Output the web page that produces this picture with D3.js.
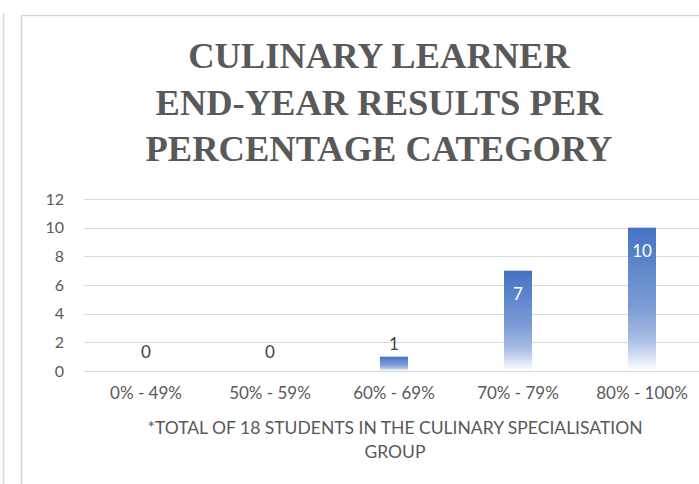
<!DOCTYPE html>
<html>
<head>
<meta charset="utf-8">
<script src="https://cdn.jsdelivr.net/npm/d3@7"></script>
<style>
  body { margin: 0; background: #fff; }
  svg { display: block; }
</style>
</head>
<body>
<svg id="chart"></svg>
<script>
    /* chart data */
    let categories = ["0% - 49%", "50% - 59%", "60% - 69%", "70% - 79%", "80% - 100%"];
    let values = [0, 0, 1, 7, 10];
    let yTicks = [0, 2, 4, 6, 8, 10, 12];
    let titleLines = ["CULINARY LEARNER", "END-YEAR RESULTS PER", "PERCENTAGE CATEGORY"];
    let axisTitleLines = ["*TOTAL OF 18 STUDENTS IN THE CULINARY SPECIALISATION", "GROUP"];

    let width = 699;
    let height = 484;
    let plotLeft = 84, plotRight = 704, plotTop = 199, plotBottom = 371;
    let font = "Lato, 'Open Sans', sans-serif";

    const svg = d3.select("#chart").attr("width", width).attr("height", height);

    // frame of neighbouring chart and of this chart
    svg.append("line").attr("x1", 3.5).attr("x2", 3.5).attr("y1", 13).attr("y2", height)
        .attr("stroke", "#d9d9d9").attr("stroke-width", 1.5);
    svg.append("rect").attr("x", 21.5).attr("y", 15.5).attr("width", 720).attr("height", 520)
        .attr("fill", "none").attr("stroke", "#d9d9d9").attr("stroke-width", 1.5);

    let grad = svg.append("defs").append("linearGradient").attr("id", "barFill")
        .attr("x1", 0).attr("y1", 0).attr("x2", 0).attr("y2", 1);
    grad.append("stop").attr("offset", "0%").attr("stop-color", "#4472c4");
    grad.append("stop").attr("offset", "55%").attr("stop-color", "#7b9bd5");
    grad.append("stop").attr("offset", "78%").attr("stop-color", "#a9bde5");
    grad.append("stop").attr("offset", "100%").attr("stop-color", "#ffffff");

    let xScale = d3.scaleBand().domain(categories).range([plotLeft, plotRight]).paddingInner(0).paddingOuter(0);
    let yScale = d3.scaleLinear().domain([0, 12]).range([plotBottom, plotTop]);
    let barWidth = 28;

    // gridlines
    svg.append("g").selectAll("line").data(yTicks).enter().append("line")
        .attr("x1", plotLeft).attr("x2", plotRight)
        .attr("y1", d => Math.round(yScale(d)) + 0.5).attr("y2", d => Math.round(yScale(d)) + 0.5)
        .attr("stroke", "#d9d9d9").attr("stroke-width", 1);

    // y axis labels
    let yAxis = d3.axisLeft(yScale).tickValues(yTicks).tickSize(0).tickPadding(0);
    let gy = svg.append("g").attr("transform", "translate(64,0)").call(yAxis);
    gy.select(".domain").remove();
    gy.selectAll("text").attr("font-family", font).attr("font-size", 16).attr("fill", "#595959");

    // x axis labels
    let xAxis = d3.axisBottom(xScale).tickSize(0).tickPadding(0);
    let gx = svg.append("g").attr("transform", "translate(0,387)").call(xAxis);
    gx.select(".domain").remove();
    gx.selectAll("text").attr("font-family", font).attr("font-size", 17).attr("fill", "#595959");

    // bars
    svg.append("g").selectAll("rect").data(values).enter().append("rect")
        .attr("x", (d, i) => xScale(categories[i]) + xScale.bandwidth() / 2 - barWidth / 2)
        .attr("width", barWidth)
        .attr("y", d => yScale(d))
        .attr("height", d => yScale(0) - yScale(d))
        .attr("fill", "url(#barFill)");

    // data labels
    svg.append("g").selectAll("text").data(values).enter().append("text")
        .attr("x", (d, i) => xScale(categories[i]) + xScale.bandwidth() / 2)
        .attr("y", d => d >= 5 ? yScale(d) + 29 : yScale(d) - (d == 0 ? 13 : 7))
        .attr("text-anchor", "middle")
        .attr("font-family", font).attr("font-size", 17)
        .attr("fill", d => d >= 5 ? "#ffffff" : "#404040")
        .text(d => d);

    // title
    svg.append("g").selectAll("text").data(titleLines).enter().append("text")
        .attr("x", 379).attr("y", (d, i) => 68 + i * 46.5)
        .attr("text-anchor", "middle")
        .attr("font-family", "'Liberation Serif', 'DejaVu Serif', serif")
        .attr("font-weight", "bold").attr("font-size", 36.5)
        .attr("fill", "#595959")
        .text(d => d);

    // axis title
    svg.append("g").selectAll("text").data(axisTitleLines).enter().append("text")
        .attr("x", 395).attr("y", (d, i) => 434 + i * 24)
        .attr("text-anchor", "middle")
        .attr("font-family", font).attr("font-size", 17.5)
        .attr("fill", "#595959")
        .text(d => d);
</script>
</body>
</html>
